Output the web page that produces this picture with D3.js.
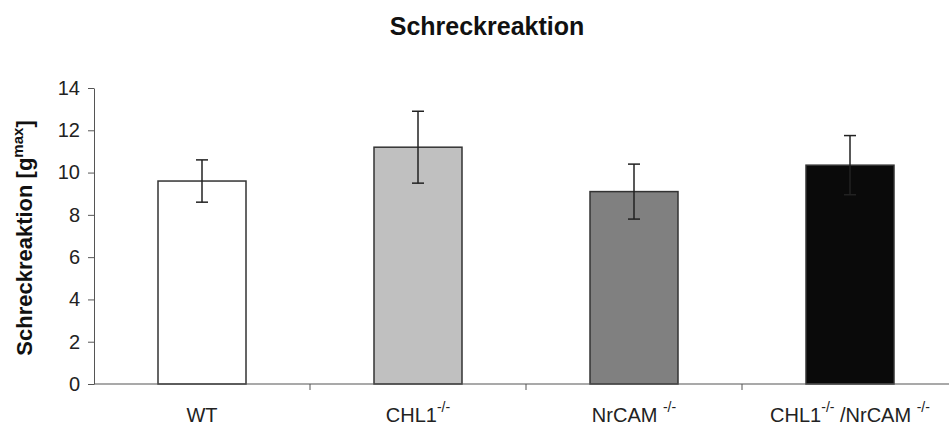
<!DOCTYPE html>
<html>
<head>
<meta charset="utf-8">
<script src="https://cdn.jsdelivr.net/npm/d3@7"></script>
<style>
  html, body { margin: 0; padding: 0; background: #fff; }
  svg { display: block; font-family: Arial, "Liberation Sans", sans-serif; }
</style>
</head>
<body>
<svg id="chart" width="949" height="425"></svg>
<script>
// Schreckreaktion – bar chart with error bars

const groups = ["WT", "CHL1", "NrCAM", "CHL1/NrCAM"];
const means  = [9.6, 11.2, 9.1, 10.35];
const errors = [1.0, 1.7, 1.3, 1.4];
const fills  = ["#ffffff", "#c0c0c0", "#808080", "#0a0a0a"];
const yTicks = [0, 2, 4, 6, 8, 10, 12, 14];

const svg = d3.select("#chart");

const x = d3.scaleBand().domain(groups).range([94, 958]).paddingInner(0).paddingOuter(0);
const y = d3.scaleLinear().domain([0, 14]).range([384, 88]);
const barW = 88;

// title
svg.append("text")
  .attr("x", 487).attr("y", 35)
  .attr("text-anchor", "middle")
  .attr("font-size", 25).attr("font-weight", "bold").attr("fill", "#111")
  .text("Schreckreaktion");

// y axis label
const yl = svg.append("text")
  .attr("transform", "translate(32,238) rotate(-90)")
  .attr("text-anchor", "middle")
  .attr("font-size", 22).attr("font-weight", "bold").attr("fill", "#111");
yl.append("tspan").text("Schreckreaktion [g");
yl.append("tspan").attr("font-size", 15).attr("dy", -9).text("max");
yl.append("tspan").attr("dy", 9).text("]");

// bars
svg.selectAll("rect.bar").data(groups).join("rect")
  .attr("class", "bar")
  .attr("x", d => x(d) + x.bandwidth() / 2 - barW / 2)
  .attr("width", barW)
  .attr("y", (d, i) => y(means[i]))
  .attr("height", (d, i) => y(0) - y(means[i]))
  .attr("fill", (d, i) => fills[i])
  .attr("stroke", "#333")
  .attr("stroke-width", 1.5);

// error bars
const eb = svg.selectAll("g.err").data(groups).join("g")
  .attr("class", "err")
  .attr("stroke", "#222").attr("stroke-width", 1.5);
eb.append("line")
  .attr("x1", d => x(d) + x.bandwidth() / 2).attr("x2", d => x(d) + x.bandwidth() / 2)
  .attr("y1", (d, i) => y(means[i] + errors[i])).attr("y2", (d, i) => y(means[i] - errors[i]));
[1, -1].forEach(s => {
  eb.append("line")
    .attr("x1", d => x(d) + x.bandwidth() / 2 - 6).attr("x2", d => x(d) + x.bandwidth() / 2 + 6)
    .attr("y1", (d, i) => y(means[i] + s * errors[i]))
    .attr("y2", (d, i) => y(means[i] + s * errors[i]));
});

// y axis
const yAxis = svg.append("g")
  .attr("transform", "translate(94,0)")
  .call(d3.axisLeft(y).tickValues(yTicks).tickSize(6).tickPadding(8).tickSizeOuter(0));
yAxis.select(".domain").attr("stroke", "#555");
yAxis.selectAll(".tick line").attr("stroke", "#555");
yAxis.selectAll(".tick text").attr("font-size", 20).attr("fill", "#222").attr("font-family", "Arial, 'Liberation Sans', sans-serif");

// x axis line + boundary ticks
svg.append("line")
  .attr("x1", 94).attr("x2", 949).attr("y1", y(0)).attr("y2", y(0))
  .attr("stroke", "#555").attr("stroke-width", 1.2);
svg.selectAll("line.xtick").data(groups.slice(1)).join("line")
  .attr("class", "xtick")
  .attr("x1", d => x(d)).attr("x2", d => x(d))
  .attr("y1", y(0)).attr("y2", y(0) + 6)
  .attr("stroke", "#555");

// x labels with superscripts
const sup = "-/-";
const labelParts = [
  [["WT", false]],
  [["CHL1", false], [sup, true]],
  [["NrCAM ", false], [sup, true]],
  [["CHL1", false], [sup, true], [" /NrCAM ", false], [sup, true]]
];
groups.forEach((g, i) => {
  const t = svg.append("text")
    .attr("x", x(g) + x.bandwidth() / 2).attr("y", 422)
    .attr("text-anchor", "middle")
    .attr("font-size", 20).attr("fill", "#222");
  let raised = false;
  labelParts[i].forEach(([txt, isSup]) => {
    let dy = 0;
    if (isSup && !raised) dy = -10;
    if (!isSup && raised) dy = 10;
    raised = isSup;
    t.append("tspan")
      .attr("font-size", isSup ? 14 : 20)
      .attr("dy", dy)
      .text(txt);
  });
});
</script>
</body>
</html>
